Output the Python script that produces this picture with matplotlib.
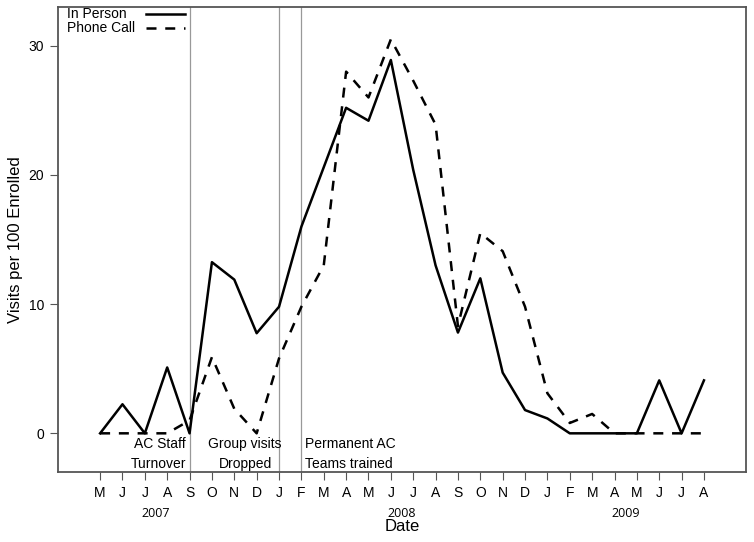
import numpy as np
import matplotlib
matplotlib.use('Agg')
from matplotlib import pyplot as plt

''' Data '''
months = ['M', 'J', 'J', 'A', 'S', 'O', 'N', 'D',
          'J', 'F', 'M', 'A', 'M', 'J', 'J', 'A', 'S', 'O', 'N', 'D',
          'J', 'F', 'M', 'A', 'M', 'J', 'J', 'A']
inPerson = [0, 2.25, 0, 5.1, 0, 13.25, 11.9, 7.75,
            9.8, 16.0, 20.6, 25.2, 24.2, 28.9, 20.4, 13.0, 7.8, 12.0, 4.7, 1.8,
            1.15, 0, 0, 0, 0, 4.1, 0, 4.1]
phoneCall = [0, 0, 0, 0, 1.0, 5.9, 1.9, 0,
             5.8, 9.8, 13.0, 28.0, 26.0, 30.5, 27.3, 23.9, 8.3, 15.5, 14.1, 9.8,
             3.1, 0.8, 1.5, 0, 0, 0, 0, 0]
years = ['2007', '2008', '2009']
yearPos = [2.5, 13.5, 23.5]
eventPos = [4, 8, 9]
eventText = ['AC Staff\nTurnover', 'Group visits\nDropped', 'Permanent AC\nTeams trained']
seriesNames = ['In Person', 'Phone Call']

plt.rcParams['font.family'] = ['Liberation Sans', 'DejaVu Sans']

x = np.arange(len(months))
dashStyle = (0, (4, 3.5))

fig = plt.figure(figsize=(7.54, 5.42), dpi=100)
ax = fig.add_axes([0.077, 0.129, 0.9124, 0.858])

for p in eventPos:
    ax.axvline(p, color='#999999', linewidth=0.9, zorder=1)

ax.plot(x, inPerson, color='black', linewidth=1.8)
ax.plot(x, phoneCall, color='black', linewidth=1.8, linestyle=dashStyle)

''' Event annotations '''
ax.text(eventPos[0] - 0.15, -1.6, eventText[0], ha='right', va='center', fontsize=10, linespacing=1.6)
ax.text(6.48, -1.6, eventText[1], ha='center', va='center', fontsize=10, linespacing=1.6)
ax.text(eventPos[2] + 0.18, -1.6, eventText[2], ha='left', va='center', fontsize=10, linespacing=1.6)

''' Legend drawn by hand: text left, line right '''
for i, name in enumerate(seriesNames):
    yy = 0.985 - i * 0.029
    ax.text(0.013, yy, name, transform=ax.transAxes, ha='left', va='center', fontsize=10)
    ax.plot([0.128, 0.185], [yy, yy], transform=ax.transAxes, color='black', linewidth=1.8,
            linestyle='-' if i == 0 else dashStyle)

ax.set_xlim(-1.88, 28.88)
ax.set_ylim(-3.0, 33.0)
ax.set_xticks(x)
ax.set_xticklabels(months, fontsize=10)
ax.set_yticks([0, 10, 20, 30])
ax.set_yticklabels(['0', '10', '20', '30'], fontsize=10)
ax.tick_params(axis='both', length=6, color='#555555', pad=4)

for s in ax.spines.values():
    s.set_color('#555555')
    s.set_linewidth(1.3)

for yr, pos in zip(years, yearPos):
    ax.text(pos, -0.075, yr, transform=ax.get_xaxis_transform(), ha='center', va='top',
            fontsize=9, family=['Open Sans', 'DejaVu Sans'])

ax.set_xlabel('Date', fontsize=12, labelpad=14)
ax.set_ylabel('Visits per 100 Enrolled', fontsize=12, labelpad=4)

fig.savefig('out.png', dpi=100)
